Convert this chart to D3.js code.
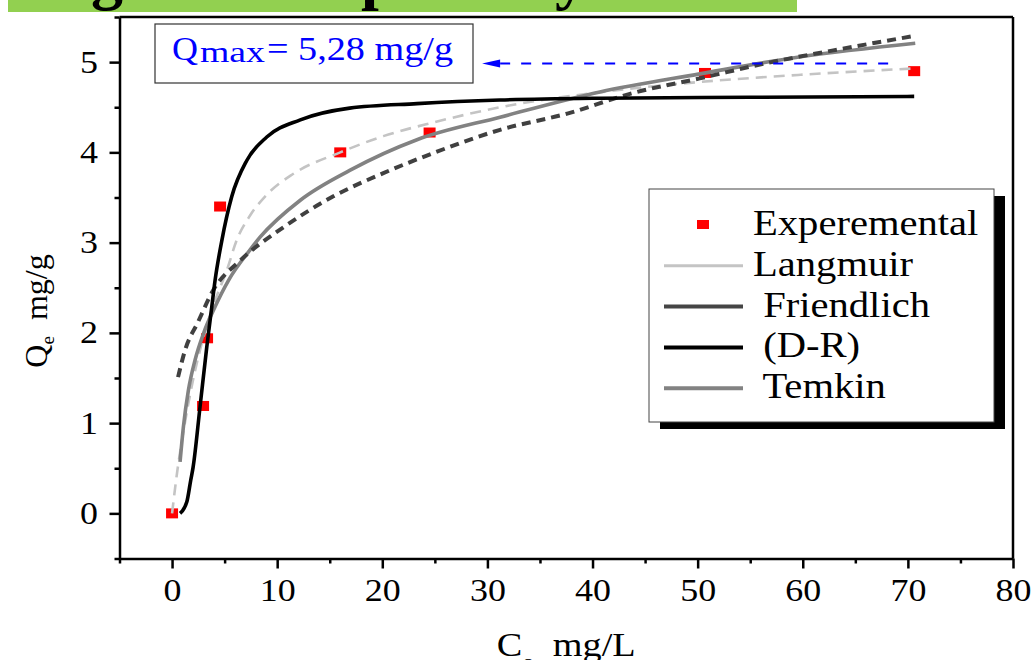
<!DOCTYPE html>
<html>
<head>
<meta charset="utf-8">
<script src="https://cdn.jsdelivr.net/npm/d3@7"></script>
<style>
html, body { margin: 0; padding: 0; background: #fff; }
svg { display: block; font-family: "Liberation Serif", "Times New Roman", serif; }
</style>
</head>
<body>
<div id="chart"></div>
<script>
// values (Ce in mg/L, Qe in mg/g)
var expC = [0, 2.95, 3.33, 4.57, 16.0, 24.5, 50.7, 70.6];
var expQ = [0, 1.19, 1.94, 3.40, 4.00, 4.22, 4.88, 4.90];

var langC = [0, 0.5, 1, 2, 3, 4, 5.2, 6.16, 7.42, 9.0, 11.5, 16.0, 20.1, 24.8, 31.2, 41.7, 50.2, 59.8, 70.6];
var langQ = [0, 0.47, 0.85, 1.48, 1.96, 2.33, 2.69, 3.03, 3.30, 3.53, 3.76, 4.00, 4.18, 4.33, 4.50, 4.68, 4.78, 4.86, 4.93];

var frC = [0.57, 1.24, 2.47, 3.9, 6.47, 10.6, 15.3, 20.1, 24.8, 31.2, 37.6, 43.9, 50.2, 56.6, 62.9, 70.6];
var frQ = [1.51, 1.81, 2.12, 2.47, 2.80, 3.17, 3.51, 3.77, 3.99, 4.25, 4.43, 4.66, 4.82, 4.99, 5.13, 5.29];

var drC = [0.76, 1.4, 1.78, 2.0, 2.66, 3.3, 3.78, 4.09, 4.73, 5.68, 7.11, 9.01, 12.2, 16.9, 23.3, 31.2, 40.7, 55, 70.6];
var drQ = [0, 0.125, 0.37, 0.51, 1.18, 1.84, 2.29, 2.58, 3.02, 3.51, 3.91, 4.17, 4.36, 4.49, 4.54, 4.58, 4.60, 4.61, 4.62];

var tmC = [0.76, 1.08, 1.55, 2.19, 2.98, 4.09, 5.36, 7.42, 8.37, 12.2, 16.9, 23.3, 31.2, 40.7, 50.2, 59.8, 70.7];
var tmQ = [0.57, 0.96, 1.36, 1.70, 1.99, 2.29, 2.58, 2.92, 3.06, 3.47, 3.80, 4.14, 4.39, 4.67, 4.87, 5.06, 5.21];

var xTicks = [0, 10, 20, 30, 40, 50, 60, 70, 80];
var xMinor = [-5, 5, 15, 25, 35, 45, 55, 65, 75];
var yTicks = [0, 1, 2, 3, 4, 5];
var yMinor = [-0.5, 0.5, 1.5, 2.5, 3.5, 4.5, 5.5];

var legendLabels = ["Experemental", "Langmuir", " Friendlich", " (D-R)", " Temkin"];
var bannerText = "Fitting of adsorption by models";

// Qmax arrow: level and span along Ce
var arrowQ = 4.985, arrowFrom = 29.5, arrowTo = 68.6;

var W = 1032, H = 660,
    stretch = 1.16;   // the original text is drawn slightly wide

var svg = d3.select("#chart").append("svg")
    .attr("width", W)
    .attr("height", H);

svg.append("rect").attr("width", W).attr("height", H).attr("fill", "#fff");

// green title banner cut off at the top
svg.append("rect")
    .attr("x", 8).attr("y", 0)
    .attr("width", 789).attr("height", 12)
    .attr("fill", "#92d050");
svg.append("text")
    .attr("x", -62).attr("y", -3)
    .style("font-size", "64px")
    .style("font-weight", "bold")
    .text(bannerText);

var x = d3.scaleLinear().domain([-5, 80]).range([119.5, 1013]);
var y = d3.scaleLinear().domain([-0.5, 5.5]).range([558.5, 17]);

function styleAxis(g) {
    g.attr("font-family", null).attr("font-size", 31);
    g.selectAll("path, line").attr("stroke", "#000").attr("stroke-width", 2.5);
    g.selectAll("text").attr("fill", "#000");
}

// frame: top and right
svg.append("line")
    .attr("x1", x(-5)).attr("x2", x(80))
    .attr("y1", y(5.5)).attr("y2", y(5.5))
    .attr("stroke", "#000").attr("stroke-width", 2.5);
svg.append("line")
    .attr("x1", x(80)).attr("x2", x(80))
    .attr("y1", y(5.5)).attr("y2", y(-0.5))
    .attr("stroke", "#000").attr("stroke-width", 2.5);

// x axis
var gx = svg.append("g")
    .attr("transform", "translate(0," + y(-0.5) + ")")
    .call(d3.axisBottom(x).tickValues(xTicks).tickSize(10).tickSizeOuter(0).tickPadding(10).tickFormat(d3.format("d")));
styleAxis(gx);
gx.selectAll("text").attr("transform", "scale(" + stretch + ",1)");

var gxm = svg.append("g")
    .attr("transform", "translate(0," + y(-0.5) + ")")
    .call(d3.axisBottom(x).tickValues(xMinor).tickSize(5).tickFormat(""));
styleAxis(gxm);
gxm.select(".domain").remove();

// y axis
var gy = svg.append("g")
    .attr("transform", "translate(" + x(-5) + ",0)")
    .call(d3.axisLeft(y).tickValues(yTicks).tickSize(10).tickSizeOuter(0).tickFormat(d3.format("d")));
styleAxis(gy);
gy.selectAll("text")
    .attr("x", -21.5 / stretch)
    .attr("transform", "scale(" + stretch + ",1)");

var gym = svg.append("g")
    .attr("transform", "translate(" + x(-5) + ",0)")
    .call(d3.axisLeft(y).tickValues(yMinor).tickSize(5).tickFormat(""));
styleAxis(gym);
gym.select(".domain").remove();

// axis titles
var xt = svg.append("text")
    .attr("transform", "translate(" + ((x(-5) + x(80)) / 2) + ",656) scale(" + stretch + ",1)")
    .attr("text-anchor", "middle")
    .style("font-size", "33px");
xt.append("tspan").text("C");
xt.append("tspan").attr("dy", 13).style("font-size", "22px").text("e");
xt.append("tspan").attr("dy", -13).style("white-space", "pre").text("  mg/L");

var yt = svg.append("text")
    .attr("transform", "translate(47,311) rotate(-90)")
    .attr("text-anchor", "middle")
    .style("font-size", "32px");
yt.append("tspan").text("Q");
yt.append("tspan").attr("dy", 7).style("font-size", "19px").text("e");
yt.append("tspan").attr("dy", -7).style("white-space", "pre").text("  mg/g");

// experimental points (drawn first, the fits pass over them)
svg.append("g").selectAll("rect")
    .data(d3.zip(expC, expQ))
    .join("rect")
    .attr("x", function(d) { return x(d[0]) - 6; })
    .attr("y", function(d) { return y(d[1]) - 5; })
    .attr("width", 12)
    .attr("height", 10)
    .attr("fill", "#ff0000");

var line = d3.line()
    .x(function(d) { return x(d[0]); })
    .y(function(d) { return y(d[1]); })
    .curve(d3.curveMonotoneX);

function drawCurve(cs, qs, color, width, dash) {
    svg.append("path")
        .datum(d3.zip(cs, qs))
        .attr("d", line)
        .attr("fill", "none")
        .attr("stroke", color)
        .attr("stroke-width", width)
        .attr("stroke-dasharray", dash)
        .attr("stroke-linejoin", "round");
}

drawCurve(langC, langQ, "#c4c4c4", 2.6, "11,7");
drawCurve(tmC, tmQ, "#828282", 3.6, null);
drawCurve(frC, frQ, "#404040", 4, "9,6");
drawCurve(drC, drQ, "#000000", 3.6, null);

// Qmax annotation
svg.append("rect")
    .attr("x", 155).attr("y", 24)
    .attr("width", 318).attr("height", 59)
    .attr("fill", "#fff")
    .attr("stroke", "#333")
    .attr("stroke-width", 1.2);
svg.append("text")
    .attr("x", 172).attr("y", 60)
    .attr("fill", "#0000ff")
    .style("font-size", "33px")
    .attr("textLength", 26).attr("lengthAdjust", "spacingAndGlyphs")
    .text("Q");
svg.append("text")
    .attr("x", 200).attr("y", 62)
    .attr("fill", "#0000ff")
    .style("font-size", "30px")
    .attr("textLength", 65).attr("lengthAdjust", "spacingAndGlyphs")
    .text("max");
svg.append("text")
    .attr("x", 267).attr("y", 60)
    .attr("fill", "#0000ff")
    .style("font-size", "33px")
    .attr("textLength", 186).attr("lengthAdjust", "spacingAndGlyphs")
    .text("= 5,28 mg/g");

var ay = y(arrowQ), ax = x(arrowFrom);
svg.append("line")
    .attr("x1", ax + 18).attr("x2", x(arrowTo))
    .attr("y1", ay).attr("y2", ay)
    .attr("stroke", "#0000ff")
    .attr("stroke-width", 2)
    .attr("stroke-dasharray", "10,11");
svg.append("path")
    .attr("d", "M" + ax + "," + ay + "L" + (ax + 18) + "," + (ay - 4) + "L" + (ax + 18) + "," + (ay + 4) + "Z")
    .attr("fill", "#0000ff");

// legend with drop shadow
var leg = svg.append("g");
leg.append("rect")
    .attr("x", 660).attr("y", 196)
    .attr("width", 345).attr("height", 233)
    .attr("fill", "#000");
leg.append("rect")
    .attr("x", 649).attr("y", 189)
    .attr("width", 345).attr("height", 233)
    .attr("fill", "#fff")
    .attr("stroke", "#444")
    .attr("stroke-width", 1);

var legStyles = [
    {type: "square", color: "#ff0000"},
    {type: "line", color: "#c4c4c4", width: 3},
    {type: "line", color: "#454545", width: 4},
    {type: "line", color: "#000000", width: 4},
    {type: "line", color: "#828282", width: 4}
];

legendLabels.forEach(function(label, i) {
    var base = 235 + i * 40.8;
    var s = legStyles[i];
    if (s.type === "square") {
        leg.append("rect")
            .attr("x", 697).attr("y", base - 15)
            .attr("width", 12).attr("height", 9)
            .attr("fill", s.color);
    } else {
        leg.append("line")
            .attr("x1", 664).attr("x2", 743)
            .attr("y1", base - 10).attr("y2", base - 10)
            .attr("stroke", s.color)
            .attr("stroke-width", s.width);
    }
    leg.append("text")
        .attr("transform", "translate(753," + base + ") scale(" + stretch + ",1)")
        .style("font-size", "35px")
        .style("white-space", "pre")
        .text(label);
});
</script>
</body>
</html>
